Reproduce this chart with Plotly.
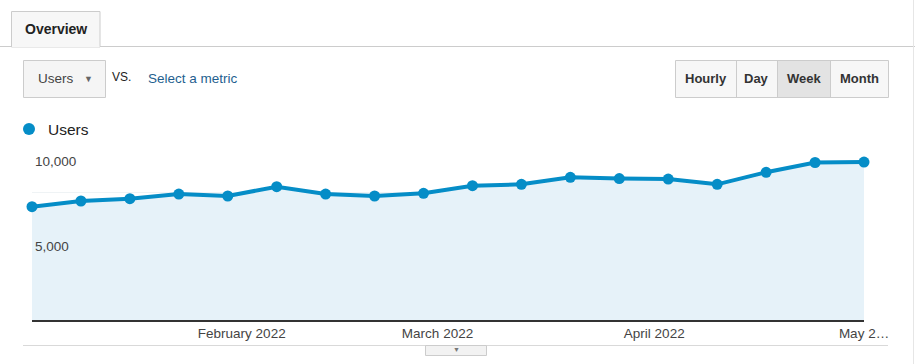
import plotly.graph_objects as go

# ---- data ----
week_starts = ["2022-01-02", "2022-01-09", "2022-01-16", "2022-01-23", "2022-01-30",
               "2022-02-06", "2022-02-13", "2022-02-20", "2022-02-27", "2022-03-06",
               "2022-03-13", "2022-03-20", "2022-03-27", "2022-04-03", "2022-04-10",
               "2022-04-17", "2022-04-24", "2022-05-01"]
users = [6665, 7000, 7135, 7410, 7294, 7840, 7410, 7294, 7450, 7900,
         7980, 8390, 8320, 8290, 7980, 8690, 9265, 9290]
x_tick_vals = ["2022-02-01", "2022-03-01", "2022-04-01", "2022-05-01"]
x_tick_text = ["February 2022", "March 2022", "April 2022", "May 2…"]
y_tick_vals = [5000, 10000]
y_tick_text = ["5,000", "10,000"]

# ---- geometry helpers (pixel -> paper) ----
W, H = 915, 364
L, R, T, B = 32, 51, 150, 44
PW, PH = W - L - R, H - T - B


def X(px):
    return (px - L) / PW


def Y(py):
    return (H - B - py) / PH


BLUE = "#058dc7"
FONT = "Arial, Liberation Sans, sans-serif"

fig = go.Figure()
fig.add_trace(go.Scatter(
    x=week_starts, y=users, mode="lines+markers",
    line=dict(color=BLUE, width=4),
    marker=dict(color=BLUE, size=11),
    fill="tozeroy", fillcolor="#e6f2f9",
    cliponaxis=False, showlegend=False, hoverinfo="x+y",
))

shapes = []
annotations = []

# top tab + separator line
shapes.append(dict(type="line", xref="paper", yref="paper", x0=X(0), x1=X(915), y0=Y(46.5), y1=Y(46.5),
                   line=dict(color="#cccccc", width=1), layer="above"))
shapes.append(dict(type="rect", xref="paper", yref="paper", x0=X(11.5), x1=X(100), y0=Y(11.5), y1=Y(47),
                   line=dict(color="#cccccc", width=1), fillcolor="#f7f7f7", layer="above"))
shapes.append(dict(type="line", xref="paper", yref="paper", x0=X(12), x1=X(99.5), y0=Y(46.5), y1=Y(46.5),
                   line=dict(color="#f7f7f7", width=1.5), layer="above"))
annotations.append(dict(text="<b>Overview</b>", x=X(55.5), y=Y(29), xref="paper", yref="paper",
                        showarrow=False, font=dict(family=FONT, size=14, color="#222222"),
                        xanchor="center", yanchor="middle"))

# metric dropdown
shapes.append(dict(type="rect", xref="paper", yref="paper", x0=X(23.5), x1=X(105.5), y0=Y(60.5), y1=Y(97.5),
                   line=dict(color="#cccccc", width=1), fillcolor="#f5f5f5", layer="above"))
annotations.append(dict(text="Users", x=X(35.5), y=Y(79), xref="paper", yref="paper", showarrow=False,
                        font=dict(family=FONT, size=13.5, color="#444444"), xanchor="left", yanchor="middle"))
annotations.append(dict(text="▼", x=X(88), y=Y(79), xref="paper", yref="paper", showarrow=False,
                        font=dict(family=FONT, size=9, color="#666666"), xanchor="center", yanchor="middle"))
annotations.append(dict(text="VS.", x=X(110), y=Y(77), xref="paper", yref="paper", showarrow=False,
                        font=dict(family=FONT, size=12, color="#222222"), xanchor="left", yanchor="middle"))
annotations.append(dict(text="Select a metric", x=X(146), y=Y(79), xref="paper", yref="paper", showarrow=False,
                        font=dict(family=FONT, size=13.5, color="#1f5f8f"), xanchor="left", yanchor="middle"))

# time granularity buttons
shapes.append(dict(type="rect", xref="paper", yref="paper", x0=X(675.5), x1=X(888.5), y0=Y(60.5), y1=Y(97.5),
                   line=dict(color="#cccccc", width=1), fillcolor="#f7f7f7", layer="above"))
shapes.append(dict(type="rect", xref="paper", yref="paper", x0=X(777), x1=X(830), y0=Y(61), y1=Y(97),
                   line=dict(width=0), fillcolor="#e3e3e3", layer="above"))
for xd in [736, 777, 830]:
    shapes.append(dict(type="line", xref="paper", yref="paper", x0=X(xd + 0.5), x1=X(xd + 0.5), y0=Y(61), y1=Y(97),
                       line=dict(color="#cccccc", width=1), layer="above"))
for label, cx in [("Hourly", 705.5), ("Day", 756.5), ("Week", 803.5), ("Month", 859)]:
    annotations.append(dict(text=f"<b>{label}</b>", x=X(cx), y=Y(79), xref="paper", yref="paper", showarrow=False,
                            font=dict(family=FONT, size=13, color="#333333"), xanchor="center", yanchor="middle"))

# legend
shapes.append(dict(type="circle", xref="paper", yref="paper", x0=X(23), x1=X(35), y0=Y(123), y1=Y(135),
                   line=dict(width=0), fillcolor=BLUE, layer="above"))
annotations.append(dict(text="Users", x=X(45.5), y=Y(129), xref="paper", yref="paper", showarrow=False,
                        font=dict(family=FONT, size=15.5, color="#222222"), xanchor="left", yanchor="middle"))

# bottom separator + expander tab
shapes.append(dict(type="line", xref="paper", yref="paper", x0=X(23), x1=X(888), y0=Y(345.5), y1=Y(345.5),
                   line=dict(color="#d9d9d9", width=1), layer="above"))
shapes.append(dict(type="rect", xref="paper", yref="paper", x0=X(425.5), x1=X(486.5), y0=Y(345.5), y1=Y(355.5),
                   line=dict(color="#cccccc", width=1), fillcolor="#f2f2f2", layer="above"))
annotations.append(dict(text="▼", x=X(456), y=Y(349.5), xref="paper", yref="paper", showarrow=False,
                        font=dict(family=FONT, size=7, color="#777777"), xanchor="center", yanchor="middle"))

# right border
shapes.append(dict(type="line", xref="paper", yref="paper", x0=X(913.5), x1=X(913.5), y0=Y(0), y1=Y(364),
                   line=dict(color="#e6e6e6", width=1), layer="above"))

fig.update_layout(
    width=W, height=H,
    margin=dict(l=L, r=R, t=T, b=B, pad=0),
    paper_bgcolor="white", plot_bgcolor="white",
    font=dict(family=FONT, size=13, color="#444444"),
    shapes=shapes, annotations=annotations,
    xaxis=dict(
        type="date", range=["2022-01-02", "2022-05-01"],
        tickvals=x_tick_vals, ticktext=x_tick_text,
        showgrid=False, zeroline=False,
        showline=True, linecolor="#333333", linewidth=2,
        ticks="", tickfont=dict(family=FONT, size=13.5, color="#444444"),
        fixedrange=True,
    ),
    yaxis=dict(
        range=[0, 10000], tickvals=y_tick_vals, ticktext=y_tick_text,
        showgrid=True, gridcolor="#e4e4e4", gridwidth=1,
        minor=dict(dtick=2500, tick0=0, showgrid=True, gridcolor="#eff3f5", gridwidth=1, ticks=""),
        zeroline=False, showline=False,
        ticklabelposition="inside bottom", ticks="", ticklabelshift=2,
        tickfont=dict(family=FONT, size=13.5, color="#444444"),
        fixedrange=True,
    ),
)

fig.write_html("out.html", post_script="document.body.style.margin='0';",
               config={"displayModeBar": False})
